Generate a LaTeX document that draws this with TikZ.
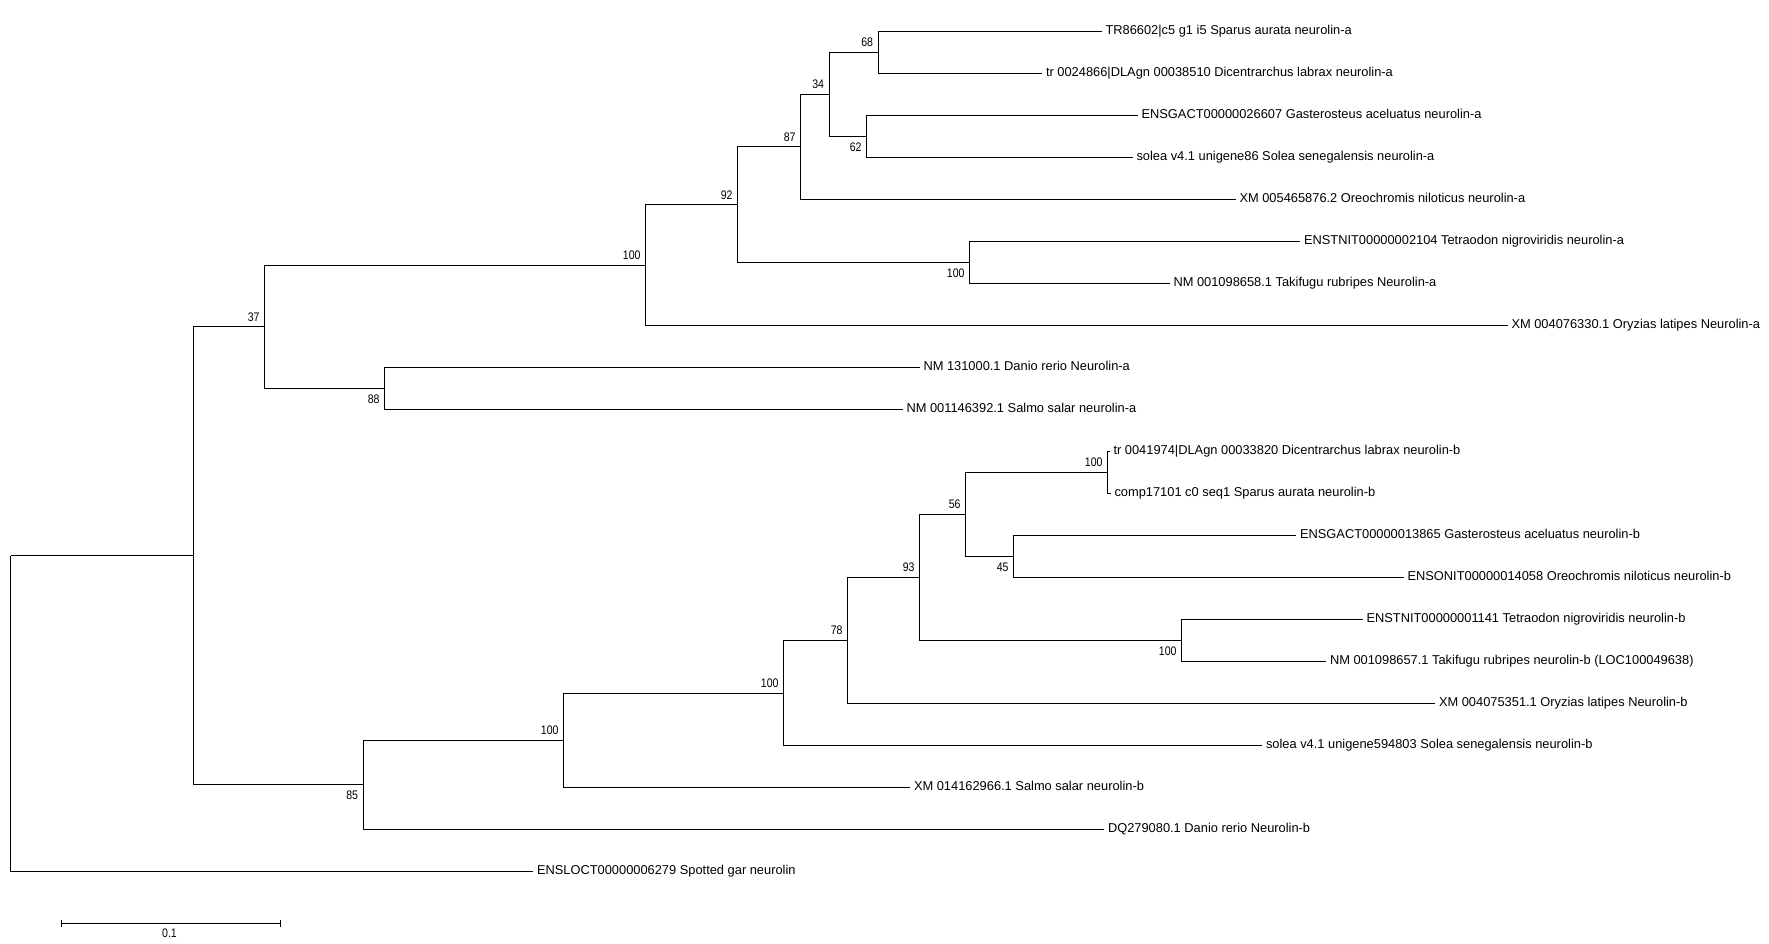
\documentclass[tikz,border=0pt]{standalone}
\usepackage{fontspec}
\setmainfont{Liberation Sans}
\newfontfamily\bsfont[FakeStretch=0.85]{Liberation Sans}
\usepackage{tikz}
\usetikzlibrary{arrows.meta}

\begin{document}
\begin{tikzpicture}[x=1pt,y=-1pt,line width=1pt,
    leaf/.style={anchor=mid west,inner xsep=3.5pt,inner ysep=0pt,font=\fontsize{12.85}{14}\selectfont},
    up/.style={anchor=south east,inner xsep=4.5pt,inner ysep=5pt,font=\bsfont\fontsize{12.4}{14}\selectfont},
    down/.style={anchor=north east,inner xsep=4.5pt,inner ysep=5.5pt,font=\bsfont\fontsize{12.4}{14}\selectfont}]
    \fill[white] (0,0) rectangle (1769,944);
    \useasboundingbox (0,0) rectangle (1769,944);

    % leaves
    \node[leaf] (sau-a) at (1101.5,31.5) {TR86602|c5 g1 i5 Sparus aurata neurolin-a};
    \node[leaf] (dla-a) at (1042,73.5) {tr 0024866|DLAgn 00038510 Dicentrarchus labrax neurolin-a};
    \node[leaf] (gac-a) at (1137.5,115.5) {ENSGACT00000026607 Gasterosteus aceluatus neurolin-a};
    \node[leaf] (sse-a) at (1132.5,157.5) {solea v4.1 unigene86 Solea senegalensis neurolin-a};
    \node[leaf] (oni-a) at (1235.5,199.5) {XM 005465876.2 Oreochromis niloticus neurolin-a};
    \node[leaf] (tni-a) at (1300,241.5) {ENSTNIT00000002104 Tetraodon nigroviridis neurolin-a};
    \node[leaf] (tru-a) at (1169.5,283.5) {NM 001098658.1 Takifugu rubripes Neurolin-a};
    \node[leaf] (ola-a) at (1507.5,325.5) {XM 004076330.1 Oryzias latipes Neurolin-a};
    \node[leaf] (dre-a) at (919.5,367.5) {NM 131000.1 Danio rerio Neurolin-a};
    \node[leaf] (ssa-a) at (902.5,409.5) {NM 001146392.1 Salmo salar neurolin-a};
    \node[leaf] (dla-b) at (1109.5,451.5) {tr 0041974|DLAgn 00033820 Dicentrarchus labrax neurolin-b};
    \node[leaf] (sau-b) at (1110.5,493.5) {comp17101 c0 seq1 Sparus aurata neurolin-b};
    \node[leaf] (gac-b) at (1296,535.5) {ENSGACT00000013865 Gasterosteus aceluatus neurolin-b};
    \node[leaf] (oni-b) at (1403.5,577.5) {ENSONIT00000014058 Oreochromis niloticus neurolin-b};
    \node[leaf] (tni-b) at (1362.5,619.5) {ENSTNIT00000001141 Tetraodon nigroviridis neurolin-b};
    \node[leaf] (tru-b) at (1326,661.5) {NM 001098657.1 Takifugu rubripes neurolin-b (LOC100049638)};
    \node[leaf] (ola-b) at (1435,703.5) {XM 004075351.1 Oryzias latipes Neurolin-b};
    \node[leaf] (sse-b) at (1262,745.5) {solea v4.1 unigene594803 Solea senegalensis neurolin-b};
    \node[leaf] (ssa-b) at (910,787.5) {XM 014162966.1 Salmo salar neurolin-b};
    \node[leaf] (dre-b) at (1104,829.5) {DQ279080.1 Danio rerio Neurolin-b};
    \node[leaf] (loc) at (533,871.5) {ENSLOCT00000006279 Spotted gar neurolin};

    % inner nodes
    \coordinate (n68) at (878,52.5);
    \coordinate (n62) at (866.5,136.5);
    \coordinate (n34) at (829,94.5);
    \coordinate (n87) at (800.5,147);
    \coordinate (n100t) at (969.5,262.5);
    \coordinate (n92) at (737.5,204.75);
    \coordinate (n100a) at (645.5,265.1);
    \coordinate (n88) at (384.5,388.5);
    \coordinate (n37) at (264.5,326.8);
    \coordinate (n100e) at (1107.5,472.5);
    \coordinate (n45) at (1013.5,556.5);
    \coordinate (n56) at (965.5,514.5);
    \coordinate (n100f) at (1181.5,640.5);
    \coordinate (n93) at (919.5,577.5);
    \coordinate (n78) at (847.5,640.5);
    \coordinate (n100d) at (783.5,693);
    \coordinate (n100c) at (563.5,740.25);
    \coordinate (n85) at (363,784.9);
    \coordinate (grp) at (193.5,555.85);
    \coordinate (root) at (10.5,555.85);

    % branches
    \draw (n68) |- (sau-a.mid west);
    \draw (n68) |- (dla-a.mid west);
    \draw (n62) |- (gac-a.mid west);
    \draw (n62) |- (sse-a.mid west);
    \draw (n34) |- (n68);
    \draw (n34) |- (n62);
    \draw (n87) |- (n34);
    \draw (n87) |- (oni-a.mid west);
    \draw (n100t) |- (tni-a.mid west);
    \draw (n100t) |- (tru-a.mid west);
    \draw (n92) |- (n87);
    \draw (n92) |- (n100t);
    \draw (n100a) |- (n92);
    \draw (n100a) |- (ola-a.mid west);
    \draw (n88) |- (dre-a.mid west);
    \draw (n88) |- (ssa-a.mid west);
    \draw (n37) |- (n100a);
    \draw (n37) |- (n88);
    \draw (n100e) |- (dla-b.mid west);
    \draw (n100e) |- (sau-b.mid west);
    \draw (n45) |- (gac-b.mid west);
    \draw (n45) |- (oni-b.mid west);
    \draw (n56) |- (n100e);
    \draw (n56) |- (n45);
    \draw (n100f) |- (tni-b.mid west);
    \draw (n100f) |- (tru-b.mid west);
    \draw (n93) |- (n56);
    \draw (n93) |- (n100f);
    \draw (n78) |- (n93);
    \draw (n78) |- (ola-b.mid west);
    \draw (n100d) |- (n78);
    \draw (n100d) |- (sse-b.mid west);
    \draw (n100c) |- (n100d);
    \draw (n100c) |- (ssa-b.mid west);
    \draw (n85) |- (n100c);
    \draw (n85) |- (dre-b.mid west);
    \draw (grp) |- (n37);
    \draw (grp) |- (n85);
    \draw (root) |- (grp);
    \draw (root) |- (loc.mid west);

    % bootstrap values
    \node[up] (l68) at (n68) {68};
    \node[down] (l62) at (n62) {62};
    \node[up] (l34) at (n34) {34};
    \node[up] (l87) at (n87) {87};
    \node[down] (l100t) at (n100t) {100};
    \node[up] (l92) at (n92) {92};
    \node[up] (l100a) at (n100a) {100};
    \node[down] (l88) at (n88) {88};
    \node[up] (l37) at (n37) {37};
    \node[up] (l100e) at (n100e) {100};
    \node[down] (l45) at (n45) {45};
    \node[up] (l56) at (n56) {56};
    \node[down] (l100f) at (n100f) {100};
    \node[up] (l93) at (n93) {93};
    \node[up] (l78) at (n78) {78};
    \node[up] (l100d) at (n100d) {100};
    \node[up] (l100c) at (n100c) {100};
    \node[down] (l85) at (n85) {85};

    % scale bar
    \coordinate (sbl) at (60.5,923.5);
    \coordinate (sbr) at (280.5,923.5);
    \draw[{Bar[width=7.5pt]}-{Bar[width=7.5pt]}] (sbl) -- (sbr);
    \node[font=\bsfont\fontsize{12.4}{14}\selectfont,inner sep=0pt] (sblabel) at (169.5,933.5) {0.1};
\end{tikzpicture}
\end{document}
